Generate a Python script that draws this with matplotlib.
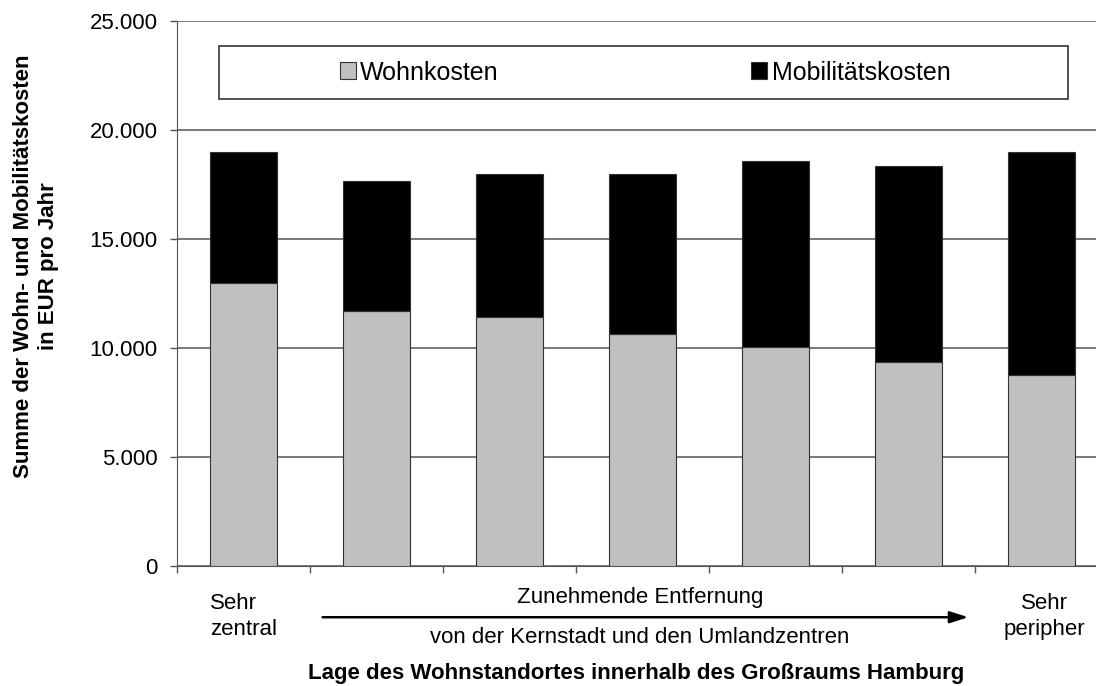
import matplotlib
matplotlib.use("Agg")
import matplotlib.pyplot as plt
from matplotlib.patches import Rectangle, Patch
import numpy as np

plt.rcParams['font.family'] = ['Liberation Sans', 'DejaVu Sans']

# data
lagen = ["Sehr zentral", "2", "3", "4", "5", "6", "Sehr peripher"]
wohnkosten = [13000, 11700, 11400, 10650, 10050, 9350, 8750]
mobilitaetskosten = [6000, 5950, 6600, 7350, 8550, 9000, 10250]
yticks = [0, 5000, 10000, 15000, 20000, 25000]
ytick_labels = ["0", "5.000", "10.000", "15.000", "20.000", "25.000"]

W, H = 1096, 686
fs = 16
fig = plt.figure(figsize=(W / 100, H / 100), dpi=100)
# plot area runs past the right edge of the picture, like the original
ax = fig.add_axes([177 / W, 120 / H, 931 / W, 545 / H])

x = np.arange(len(lagen))
grau = "#c0c0c0"
ax.bar(x, wohnkosten, width=0.5, color=grau, edgecolor="#333333", linewidth=0.8,
       zorder=3, label="Wohnkosten")
ax.bar(x, mobilitaetskosten, width=0.5, bottom=wohnkosten, color="black",
       edgecolor="#333333", linewidth=0.8, zorder=3, label="Mobilitätskosten")

ax.set_xlim(-0.5, len(lagen) - 0.5)
ax.set_ylim(0, 25000)
ax.set_yticks(yticks)
ax.set_yticklabels(ytick_labels)
ax.set_xticks(np.arange(len(lagen) + 1) - 0.5)
ax.set_xticklabels([])
ax.yaxis.grid(True, color="#555555", linewidth=1.1, zorder=0)
ax.set_axisbelow(True)
for s in ["top", "right"]:
    ax.spines[s].set_visible(False)
ax.spines["left"].set_color("#555555")
ax.spines["bottom"].set_color("#555555")
ax.tick_params(axis="y", length=5, width=1, color="#555555", pad=9, labelsize=fs)
ax.tick_params(axis="x", length=5, width=1, color="#555555")

# legend in a framed box
box = Rectangle((219 / W, 1 - 99 / H), (1068 - 219) / W, 53 / H,
                transform=fig.transFigure, facecolor="white", edgecolor="#333333",
                linewidth=1.2, zorder=5)
fig.add_artist(box)
handles = [Patch(facecolor=grau, edgecolor="#333333", linewidth=0.8),
           Patch(facecolor="black", edgecolor="#333333", linewidth=0.8)]
leg = fig.legend(handles, ["Wohnkosten", "Mobilitätskosten"], ncol=2,
                 loc="center", bbox_to_anchor=(645 / W, 1 - 72.5 / H),
                 frameon=False, fontsize=18, handlelength=0.64, handleheight=0.64,
                 handletextpad=0.18, columnspacing=10.1)
leg.set_zorder(6)

# text and arrow under the axis
xt = ax.get_xaxis_transform()
ax.annotate("", xy=(5.45, -0.094), xytext=(0.595, -0.094), xycoords=xt,
            textcoords=xt, annotation_clip=False,
            arrowprops=dict(arrowstyle="-|>,head_length=1.1,head_width=0.35",
                            color="black", lw=1.8, shrinkA=0, shrinkB=0))
ax.text(2.98, -0.058, "Zunehmende Entfernung", transform=xt, ha="center",
        va="center", fontsize=fs)
ax.text(2.98, -0.131, "von der Kernstadt und den Umlandzentren", transform=xt,
        ha="center", va="center", fontsize=fs)
ax.text(-0.25, -0.092, "Sehr\nzentral", transform=xt, ha="left", va="center",
        fontsize=fs, linespacing=1.3)
ax.text(6.02, -0.092, "Sehr\nperipher", transform=xt, ha="center", va="center",
        fontsize=fs, linespacing=1.3)

fig.text(636 / W, 1 - 673 / H, "Lage des Wohnstandortes innerhalb des Großraums Hamburg",
         ha="center", va="center", fontsize=fs, fontweight="bold")
fig.text(36 / W, 1 - 266 / H, "Summe der Wohn- und Mobilitätskosten\nin EUR pro Jahr",
         ha="center", va="center", rotation=90, fontsize=fs, fontweight="bold",
         linespacing=1.2)

fig.savefig("out.png", dpi=100)
